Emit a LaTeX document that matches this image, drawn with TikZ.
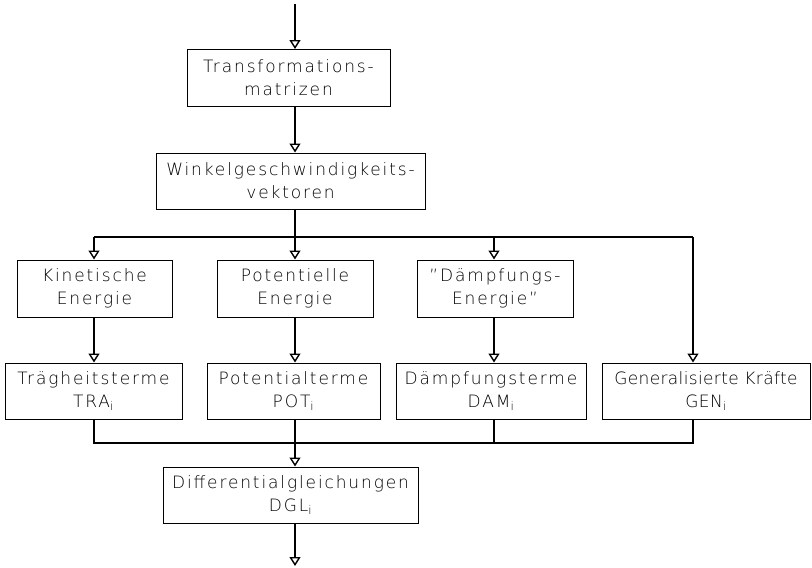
\documentclass[tikz,border=0pt]{standalone}
\usepackage{fontspec}
\IfFontExistsTF{DejaVu Sans ExtraLight}
  {\setmainfont{DejaVu Sans ExtraLight}[LetterSpace=11]
   \newfontfamily\tightfont{DejaVu Sans ExtraLight}[LetterSpace=2]}
  {\setmainfont{DejaVu Sans}[LetterSpace=11]
   \newfontfamily\tightfont{DejaVu Sans}[LetterSpace=2]}
\usetikzlibrary{arrows.meta}
\begin{document}
\begin{tikzpicture}[x=1pt,y=-1pt,
  box/.style={draw,line width=1pt,align=center,inner sep=0pt,
    font=\fontsize{17}{23}\selectfont},
  flow/.style={line width=2.8pt},
  arr/.style={flow,-{Triangle[open,width=11pt,length=9pt,line width=1.4pt]}}]
\useasboundingbox (0,0) rectangle (812,568);
\node[box,minimum width=203pt,minimum height=57pt] (t) at (288.5,78) {Transformations-\\matrizen};
\node[box,minimum width=269pt,minimum height=56pt] (w) at (290.5,181) {Winkelgeschwindigkeits-\\vektoren};
\node[box,minimum width=155pt,minimum height=57pt] (k1) at (94.5,288.5) {Kinetische\\Energie};
\node[box,minimum width=156pt,minimum height=57pt] (k2) at (295,288.5) {Potentielle\\Energie};
\node[box,minimum width=156pt,minimum height=57pt] (k3) at (495,288.5) {\symbol{34}Dämpfungs-\\Energie\symbol{34}};
\node[box,minimum width=177pt,minimum height=56pt] (r1) at (93.5,391) {Trägheitsterme\\TRA\textsubscript{i}};
\node[box,minimum width=173pt,minimum height=56pt] (r2) at (293.5,391) {Potentialterme\\POT\textsubscript{i}};
\node[box,minimum width=190pt,minimum height=56pt] (r3) at (491,391) {Dämpfungsterme\\DAM\textsubscript{i}};
\node[box,minimum width=208pt,minimum height=56pt,font=\fontsize{17}{23}\tightfont] (r4) at (706,391) {Generalisierte Kräfte\\GEN\textsubscript{i}};
\node[box,minimum width=255pt,minimum height=56pt] (d) at (290.5,495) {Differentialgleichungen\\DGL\textsubscript{i}};
\coordinate (in) at (295,4);
\coordinate (out) at (295,566);
\coordinate (c1) at (94,237);
\coordinate (c2) at (295,237);
\coordinate (c3) at (494,237);
\coordinate (c4) at (693,237);
\coordinate (e1) at (94,443);
\coordinate (e2) at (295,443);
\coordinate (e3) at (494,443);
\coordinate (e4) at (693,443);
\draw[arr] (in) -- (t.north -| in);
\draw[arr] (t.south -| in) -- (w.north -| in);
\draw[flow] (w.south -| in) -- (c2);
\draw[flow] (c1) -- (c4);
\draw[arr] (c1) -- (k1.north -| c1);
\draw[arr] (c2) -- (k2.north -| c2);
\draw[arr] (c3) -- (k3.north -| c3);
\draw[arr] (c4) -- (r4.north -| c4);
\draw[arr] (k1.south -| c1) -- (r1.north -| c1);
\draw[arr] (k2.south -| c2) -- (r2.north -| c2);
\draw[arr] (k3.south -| c3) -- (r3.north -| c3);
\draw[flow] (r1.south -| e1) -- (e1) -- (e4) -- (r4.south -| e4);
\draw[flow] (r2.south -| e2) -- (e2);
\draw[flow] (r3.south -| e3) -- (e3);
\draw[arr] (e2) -- (d.north -| e2);
\draw[arr] (d.south -| e2) -- (out);
\end{tikzpicture}
\end{document}
